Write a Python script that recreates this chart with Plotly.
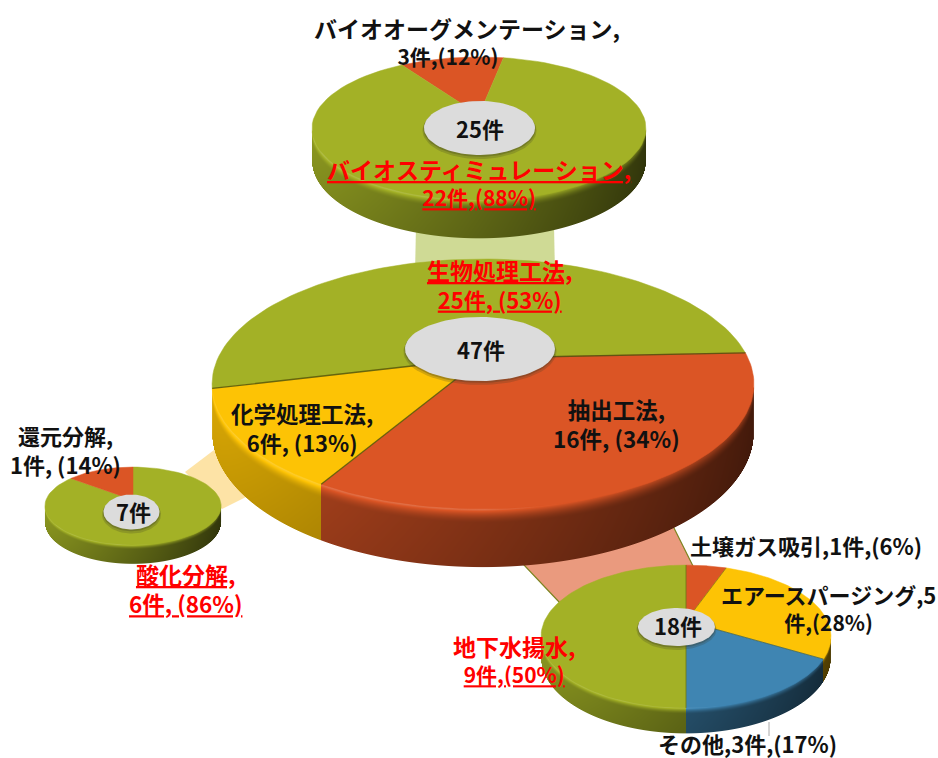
import numpy as np
import plotly.graph_objects as go

# ---- case counts per breakdown (件) ----
bio_names = ["バイオオーグメンテーション", "バイオスティミュレーション"]
bio_values = [3, 22]

method_names = ["生物処理工法", "抽出工法", "化学処理工法"]
method_values = [25, 16, 6]

chem_names = ["酸化分解", "還元分解"]
chem_values = [6, 1]

extract_names = ["土壌ガス吸引", "エアースパージング", "その他", "地下水揚水"]
extract_values = [1, 5, 3, 9]

GREEN = (163, 177, 38)
RED = (219, 85, 37)
YELLOW = (253, 195, 5)
BLUE = (63, 133, 178)

FONT = "Noto Sans CJK JP"


def project(p, theta):
    """Map a clockwise angle on the disc to the page through a mild perspective."""
    u, v = np.sin(theta), np.cos(theta)
    s = 1 / (1 + p["k"] * v)
    return p["x0"] + p["A"] * u * s, p["y0"] - p["B"] * v * s, s


def wall_factor(u, t):
    """Brightness of the side wall: lit from the left, with a rounded bevel at its top."""
    light = 0.58 - 0.28 * u
    peak = 1.14 - 0.55 * np.maximum(u, 0)
    bevel = light + (peak - light) * (1 - np.clip(t, 0, 0.24) / 0.24) ** 1.6
    return np.where(t < 0.24, bevel, light * (1 - 0.06 * (t - 0.24)))


def add_wall(fig, p, values, colors):
    """Shade the front wall pixel by pixel; which slice a column belongs to follows the values."""
    theta = np.radians(np.linspace(0, 360, 7201))
    rim_x, _, _ = project(p, theta)
    i_r, i_l = int(np.argmax(rim_x)), int(np.argmin(rim_x))
    arc = theta[i_r:i_l + 1]
    arc_x, _, _ = project(p, arc)

    x_lo, x_hi = int(np.floor(arc_x.min())), int(np.ceil(arc_x.max()))
    cols = np.arange(x_lo, x_hi) + 0.5
    col_th = np.interp(cols, arc_x[::-1], arc[::-1])
    _, y_top, s = project(p, col_th)
    y_bot = y_top + p["D"] * s

    y_lo, y_hi = int(np.floor(y_top.min())) - 4, int(np.ceil(y_bot.max())) + 1
    rows = np.arange(y_lo, y_hi) + 0.5
    xx_th, yy = np.meshgrid(col_th, rows)
    t = (yy - y_top) / (y_bot - y_top)
    f = wall_factor(np.sin(xx_th), t)

    share = ((xx_th - np.radians(p["start"])) % (2 * np.pi)) / (2 * np.pi) * sum(values)
    idx = np.clip(np.searchsorted(np.cumsum(values), share, side="right"), 0, len(values) - 1)
    base = np.array(colors, dtype=float)[idx]
    shaded = np.where(f[..., None] > 1, base + (255 - base) * (f[..., None] - 1) * 1.5, base * f[..., None])

    alpha = np.clip(y_bot - yy + 0.5, 0, 1) * np.clip(yy - y_top + 4, 0, 1)
    alpha = alpha * np.clip(cols - arc_x.min() + 0.5, 0, 1) * np.clip(arc_x.max() - cols + 0.5, 0, 1)
    rgba = np.dstack([np.clip(shaded, 0, 255), alpha * 255]).astype(np.uint8)
    fig.add_trace(go.Image(z=rgba.tolist(), colormodel="rgba", zmin=[0, 0, 0, 0], zmax=[255, 255, 255, 255],
                           x0=cols[0], dx=1, y0=rows[0], dy=1, hoverinfo="skip"))


def add_face(fig, p, values, colors):
    edges = np.radians(p["start"] + 360 * np.cumsum([0] + list(values)) / sum(values))
    for i, col in enumerate(colors):
        th = np.linspace(edges[i], edges[i + 1], 90)
        rx, ry, _ = project(p, th)
        c = "rgb(%d,%d,%d)" % col
        fig.add_trace(go.Scatter(x=[p["x0"]] + list(rx) + [p["x0"]],
                                 y=[p["y0"]] + list(ry) + [p["y0"]],
                                 mode="lines", fill="toself", fillcolor=c,
                                 line=dict(color=c, width=0.5), hoverinfo="skip"))

    # dark seams between neighbouring slices
    if p["edge"]:
        for e in edges[:-1]:
            rx, ry, _ = project(p, e)
            fig.add_trace(go.Scatter(x=[p["x0"], rx], y=[p["y0"], ry], mode="lines",
                                     line=dict(color="rgba(70,78,10,0.8)", width=p["edge"]),
                                     hoverinfo="skip"))

    # centre badge with its soft drop edge
    phi = np.linspace(0, 2 * np.pi, 90)
    hx, hy, hrx, hry = p["hole"]
    for off, grow, c in [(2.5, 1.5, "rgba(60,60,40,0.22)"), (1.2, 0.6, "rgba(60,60,40,0.3)"), (0, 0, "#DCDCDC")]:
        fig.add_trace(go.Scatter(x=hx + (hrx + grow) * np.cos(phi),
                                 y=hy + off + (hry + grow) * np.sin(phi),
                                 mode="lines", fill="toself", fillcolor=c,
                                 line=dict(width=0), hoverinfo="skip"))


def pct(v, values):
    return round(100 * v / sum(values))


fig = go.Figure()

pies = [
    (dict(x0=479, y0=115, A=164, B=69, k=0.189, D=31, start=-33, edge=0,
          hole=(479.5, 128, 55.5, 27)), bio_values, [RED, GREEN]),
    (dict(x0=483, y0=358, A=265, B=119.6, k=0.208, D=46, start=-104, edge=1.3,
          hole=(480, 349, 75, 32)), method_values, [GREEN, RED, YELLOW]),
    (dict(x0=133, y0=500, A=87, B=38, k=0.154, D=16, start=0, edge=0,
          hole=(131.5, 512, 28, 17.5)), chem_values, [GREEN, RED]),
    (dict(x0=686, y0=621, A=141.5, B=68, k=0.217, D=20, start=0, edge=0.6,
          hole=(676.5, 627, 38.5, 19)), extract_values, [RED, YELLOW, BLUE, GREEN]),
]
for p, values, colors in pies:
    add_wall(fig, p, values, colors)
for p, values, colors in pies:
    add_face(fig, p, values, colors)

# pale bands linking each breakdown to its parent method, kept behind the pies
shapes = [
    dict(type="path", path="M416,225 L554,225 L555,275 L415,275 Z", layer="below",
         fillcolor="#CFDA95", line=dict(width=0)),
    dict(type="path", path="M185,472 L218,447 L250,495 L222,509 Z", layer="below",
         fillcolor="#FDE3A6", line=dict(width=0)),
    dict(type="path", path="M505,545 L660,500 L696,572 L560,603 Z", layer="below",
         fillcolor="#EA9A7E", line=dict(width=1.2, color="#7C8420")),
    # leader line under the その他 slice
    dict(type="line", x0=769, x1=769, y0=722, y1=736, layer="below",
         line=dict(width=1, color="#AAAAAA")),
]

BLACK, REDTXT = "#111111", "#FF0000"


def two_lines(first, second, s1, s2):
    return f'<span style="font-size:{s1}px">{first}</span><br>{second}', s2


PAD = "\u00a0" * 8  # the count line sits left of centre under the long name
labels = [
    (*two_lines(f"{bio_names[0]},", f"{bio_values[0]}件,({pct(bio_values[0], bio_values)}%){PAD}", 23, 21), 467, 41, BLACK),
    (*two_lines(f"<u>{bio_names[1]},</u>", f"<u>{bio_values[1]}件,({pct(bio_values[1], bio_values)}%)</u>", 23, 21), 479, 182, REDTXT),
    (*two_lines(f"<u>{method_names[0]},</u>", f"<u>{method_values[0]}件, ({pct(method_values[0], method_values)}%)</u>", 23, 22), 499, 284, REDTXT),
    (*two_lines(f"{method_names[1]},", f"{method_values[1]}件, ({pct(method_values[1], method_values)}%)", 22.5, 22.5), 616, 423, BLACK),
    (*two_lines(f"{method_names[2]},", f"{method_values[2]}件, ({pct(method_values[2], method_values)}%)", 22.5, 22), 302, 427, BLACK),
    (*two_lines(f"{chem_names[1]},", f"{chem_values[1]}件, ({pct(chem_values[1], chem_values)}%)", 22, 22), 65, 449, BLACK),
    (*two_lines(f"<u>{chem_names[0]},</u>", f"<u>{chem_values[0]}件, ({pct(chem_values[0], chem_values)}%)</u>", 23, 22.5), 185, 588, REDTXT),
    (f"{extract_names[0]},{extract_values[0]}件,({pct(extract_values[0], extract_values)}%)", 22, 806, 545, BLACK),
    (*two_lines(f"{extract_names[1]},{extract_values[1]}", f"件,({pct(extract_values[1], extract_values)}%)", 22, 21), 828, 607, BLACK),
    (f"{extract_names[2]},{extract_values[2]}件,({pct(extract_values[2], extract_values)}%)", 22, 747, 743, BLACK),
    (*two_lines(f"{extract_names[3]},", f"<u>{extract_values[3]}件,({pct(extract_values[3], extract_values)}%)</u>", 23, 21), 514, 659, REDTXT),
]
centers = [
    (f"{sum(bio_values)}件", 480, 128),
    (f"{sum(method_values)}件", 481, 349),
    (f"{sum(chem_values)}件", 133, 511),
    (f"{sum(extract_values)}件", 678, 625),
]

annotations = [dict(x=x, y=y, text=f"<b>{t}</b>", showarrow=False, xanchor="center", yanchor="middle",
                    align="center", font=dict(family=FONT, size=s, color=c)) for t, s, x, y, c in labels]
annotations += [dict(x=x, y=y, text=f"<b>{t}</b>", showarrow=False, xanchor="center", yanchor="middle",
                     font=dict(family=FONT, size=22, color="#111111")) for t, x, y in centers]

fig.update_layout(
    width=938, height=758, margin=dict(l=0, r=0, t=0, b=0),
    paper_bgcolor="white", plot_bgcolor="white", showlegend=False,
    xaxis=dict(range=[0, 938], visible=False, fixedrange=True),
    yaxis=dict(range=[758, 0], visible=False, fixedrange=True),
    shapes=shapes,
    annotations=annotations,
)
fig.write_html("out.html", config=dict(displayModeBar=False))
